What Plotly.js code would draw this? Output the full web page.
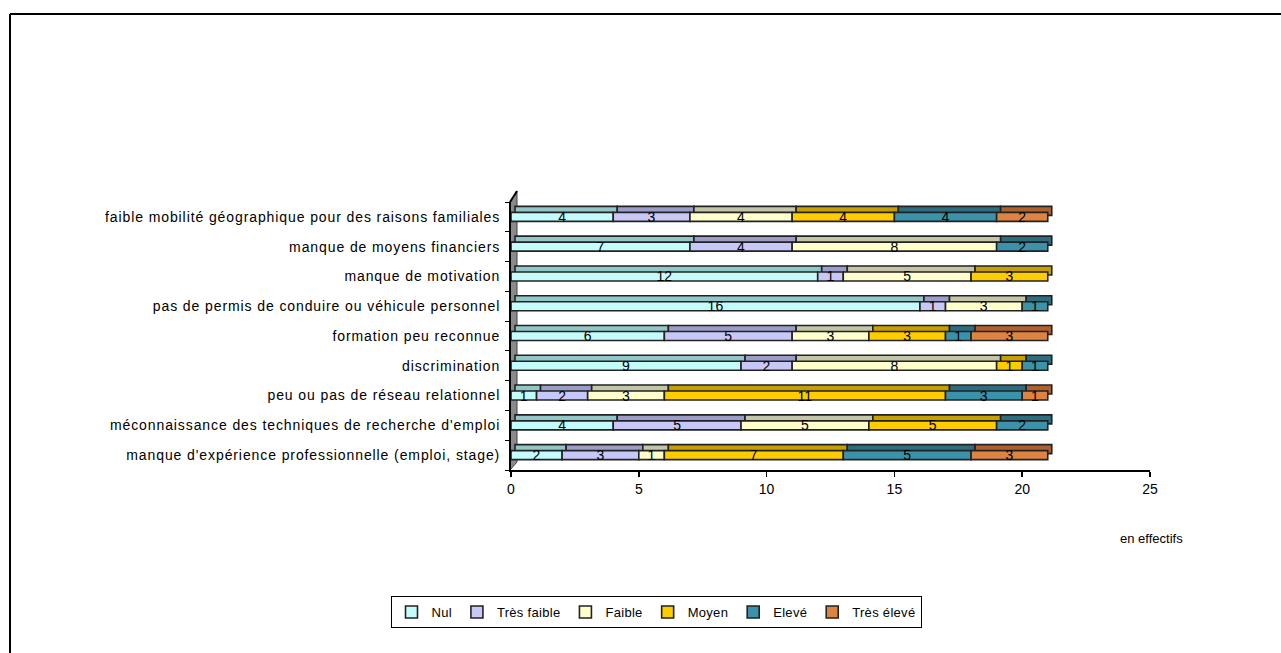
<!DOCTYPE html>
<html><head><meta charset="utf-8">
<script src="https://cdn.plot.ly/plotly-3.0.1.min.js"></script>
<style>html,body{margin:0;padding:0;background:#fff}#chart{width:1281px;height:653px}
.ytick text{letter-spacing:0.9px}
.legendtext{letter-spacing:0.3px}
</style>
</head><body><div id="chart"></div>
<script>
const categories = [
  "manque d'expérience professionnelle (emploi, stage)",
  "méconnaissance des techniques de recherche d'emploi",
  "peu ou pas de réseau relationnel",
  "discrimination",
  "formation peu reconnue",
  "pas de permis de conduire ou véhicule personnel",
  "manque de motivation",
  "manque de moyens financiers",
  "faible mobilité géographique pour des raisons familiales"
];
const seriesNames = ["Nul", "Très faible", "Faible", "Moyen", "Elevé", "Très élevé"];
const nul        = [2, 4, 1, 9, 6, 16, 12, 7, 4];
const tresFaible = [3, 5, 2, 2, 5, 1, 1, 4, 3];
const faible     = [1, 5, 3, 8, 3, 3, 5, 8, 4];
const moyen      = [7, 5, 11, 1, 3, 0, 3, 0, 4];
const eleve      = [5, 2, 3, 1, 1, 1, 0, 2, 4];
const tresEleve  = [3, 0, 1, 0, 3, 0, 0, 0, 2];
const xTicks = [0, 5, 10, 15, 20, 25];

const seriesValues = [nul, tresFaible, faible, moyen, eleve, tresEleve];
const frontColors = ["#C4FCFC", "#C8C8F8", "#FFFFCC", "#FFCC00", "#3A93AB", "#DE8443"];
const topColors   = ["#93C6C6", "#9C9CC8", "#C4C4A8", "#C89F00", "#2C6E80", "#AE612C"];

// plot-area geometry (pixels) used to place decorative shapes
const L = 511, W = 639, T = 202, H = 268;
const px = x => (x - L) / W;
const py = y => (T + H - y) / H;
const rowPx = H / categories.length;
const shiftX = 4 * 25 / W;           // 3D depth to the right (x units)
const shiftY = 6 / rowPx;            // 3D depth upward (category units)
const faceW = 9 / rowPx;             // front face thickness

// cumulative starts of each stacked segment
const bases = [];
let running = categories.map(() => 0);
seriesValues.forEach(vals => {
  bases.push(running.slice());
  running = running.map((r, j) => r + vals[j]);
});

const backTraces = seriesValues.map((vals, i) => ({
  type: 'bar', orientation: 'h', name: seriesNames[i], showlegend: false,
  y: categories, x: vals.map(v => v > 0 ? v : null), base: bases[i].map(b => b + shiftX),
  width: faceW, offset: -faceW / 2 + shiftY,
  marker: {color: topColors[i], line: {color: '#222', width: 1.6}},
  hoverinfo: 'skip'
}));
const frontTraces = seriesValues.map((vals, i) => ({
  type: 'bar', orientation: 'h', name: seriesNames[i],
  y: categories, x: vals.map(v => v > 0 ? v : null), base: bases[i],
  text: vals.map(v => v > 0 ? String(v) : ''),
  textposition: 'inside', insidetextanchor: 'middle', textangle: 0, constraintext: 'none',
  textfont: {family: 'Liberation Sans, Arial', size: 14, color: '#000'},
  marker: {color: frontColors[i], line: {color: '#222', width: 1.6}},
  width: faceW, offset: -faceW / 2, hoverinfo: 'x+name'
}));

const layout = {
  width: 1281, height: 653,
  margin: {l: L, r: 1281 - L - W, t: T, b: 653 - T - H},
  barmode: 'overlay',
  paper_bgcolor: '#fff', plot_bgcolor: 'rgba(0,0,0,0)',
  font: {family: 'Liberation Sans, Arial', size: 14, color: '#000'},
  xaxis: {range: [0, 25], tickvals: xTicks, ticktext: xTicks.map(String),
    showgrid: false, zeroline: false, showline: true, linecolor: '#000', linewidth: 2,
    ticks: 'outside', ticklen: 5, tickcolor: '#000', tickwidth: 1.5,
    tickfont: {size: 14}},
  yaxis: {type: 'category', categoryarray: categories, range: [-0.5, 8.5], showgrid: false, zeroline: false,
    showline: true, linecolor: '#000', linewidth: 2,
    ticks: 'outside', ticklen: 4, tickson: 'boundaries', tickcolor: '#000',
    ticklabelstandoff: 6, tickfont: {size: 14}},
  showlegend: true,
  legend: {orientation: 'h', x: px(656), xanchor: 'center', y: py(596), yanchor: 'top',
    bordercolor: '#000', borderwidth: 1, font: {size: 13}, traceorder: 'normal',
    itemwidth: 30},
  annotations: [{text: 'en effectifs', xref: 'paper', yref: 'paper', x: px(1151), y: py(538),
    xanchor: 'center', yanchor: 'middle', showarrow: false, font: {size: 13}}],
  shapes: [
    {type: 'line', xref: 'paper', yref: 'paper', x0: px(10), x1: px(1290), y0: py(14), y1: py(14),
      line: {color: '#000', width: 2}},
    {type: 'line', xref: 'paper', yref: 'paper', x0: px(10), x1: px(10), y0: py(14), y1: py(660),
      line: {color: '#000', width: 2}},
    {type: 'line', xref: 'paper', yref: 'paper', x0: px(510), x1: px(517), y0: py(T), y1: py(191),
      line: {color: '#000', width: 2}},
    {type: 'path', xref: 'paper', yref: 'paper', layer: 'below',
      path: `M ${px(510)} ${py(470)} L ${px(510)} ${py(T)} L ${px(517)} ${py(191)} L ${px(517)} ${py(462)} Z`,
      fillcolor: '#8a8a8a', line: {color: '#444', width: 1}}
  ]
};

Plotly.newPlot('chart', backTraces.concat(frontTraces), layout, {displayModeBar: false, staticPlot: true});
</script></body></html>
